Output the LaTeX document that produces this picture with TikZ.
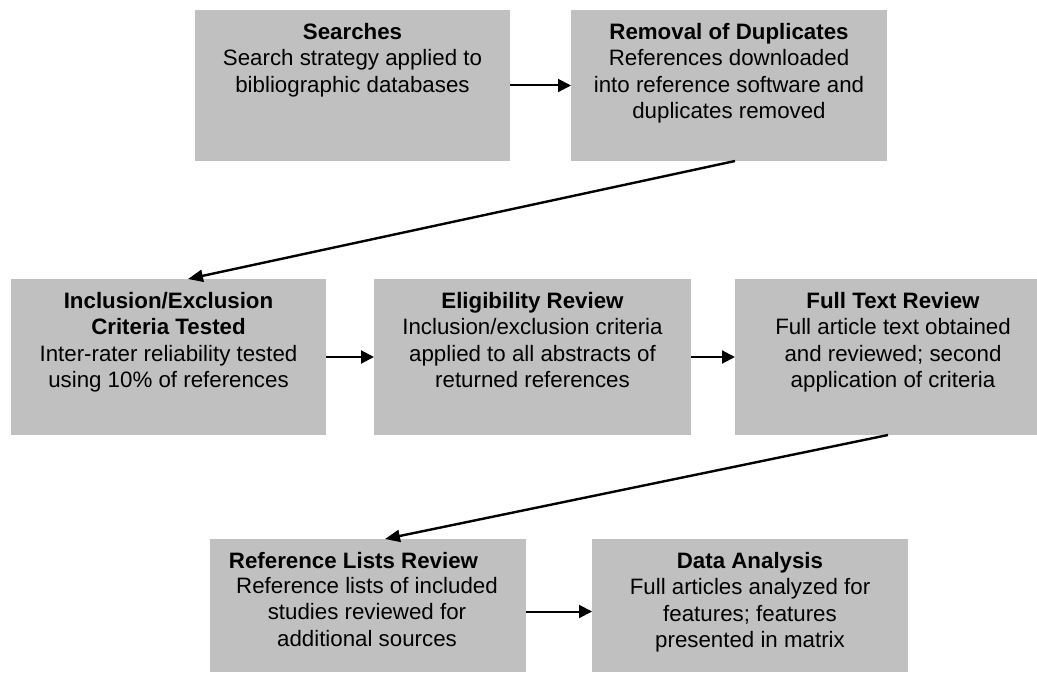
\documentclass[tikz,border=0pt]{standalone}
\usepackage{fontspec}
\setmainfont{Liberation Sans}
\usetikzlibrary{arrows.meta}
\definecolor{boxgray}{RGB}{192,192,192}
\tikzset{
  box/.style={fill=boxgray, draw=none, inner sep=0pt, outer sep=0pt},
  boxtext/.style={anchor=north, inner sep=0pt, align=center,
    font=\fontsize{22.3pt}{26.5pt}\selectfont},
  titletext/.style={anchor=base, inner sep=0pt,
    font=\fontsize{22.3pt}{26.5pt}\selectfont\bfseries},
  flow/.style={draw=black, line width=2pt, -{Triangle[length=13pt,width=13pt]}},
  jump/.style={draw=black, line width=2.4pt, -{Triangle[length=15pt,width=12pt]}}
}
\begin{document}
\begin{tikzpicture}[x=1pt,y=-1pt]
\useasboundingbox (0,0) rectangle (1037,677);
% boxes
\node[box, minimum width=315pt, minimum height=151pt] (b1) at (352.5,85.5) {};
\node[box, minimum width=316pt, minimum height=151pt] (b2) at (729,85.5) {};
\node[box, minimum width=315pt, minimum height=156pt] (b3) at (168.5,357) {};
\node[box, minimum width=317pt, minimum height=156pt] (b4) at (532.5,357) {};
\node[box, minimum width=302pt, minimum height=156pt] (b5) at (886,357) {};
\node[box, minimum width=316pt, minimum height=133pt] (b6) at (368,605.5) {};
\node[box, minimum width=316pt, minimum height=133pt] (b7) at (750,605.5) {};
% texts
\node[boxtext] (t1) at (352.5,23) {\textbf{Searches}\\Search strategy applied to\\bibliographic databases};
\node[boxtext] (t2) at (729,23) {\textbf{Removal of Duplicates}\\References downloaded\\into reference software and\\duplicates removed};
\node[boxtext] (t3) at (168.5,292) {\textbf{Inclusion/Exclusion}\\\textbf{Criteria Tested}\\Inter-rater reliability tested\\using 10\% of references};
\node[boxtext] (t4) at (532.5,292) {\textbf{Eligibility Review}\\Inclusion/exclusion criteria\\applied to all abstracts of\\returned references};
\node[boxtext] (t5) at (893,292) {\textbf{Full Text Review}\\Full article text obtained\\and reviewed; second\\application of criteria};
\node[titletext] (h6) at (353.5,568) {Reference Lists Review};
\node[boxtext] (t6) at (367,577) {Reference lists of included\\studies reviewed for\\additional sources};
\node[boxtext] (t7) at (750,552) {\textbf{Data Analysis}\\Full articles analyzed for\\features; features\\presented in matrix};
% connectors
\draw[flow] (b1.east) -- (b2.west);
\draw[jump] ([xshift=6pt]b2.south) -- ([xshift=19.5pt]b3.north);
\draw[flow] (b3.east) -- (b4.west);
\draw[flow] (b4.east) -- (b5.west);
\draw[jump] ([xshift=2pt]b5.south) -- ([xshift=17pt]b6.north);
\draw[flow] ([yshift=-6pt]b6.east) -- ([yshift=-6pt]b7.west);
\end{tikzpicture}
\end{document}
